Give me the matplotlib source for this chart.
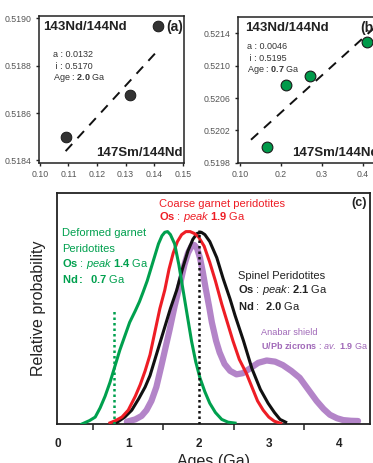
import matplotlib
matplotlib.use("Agg")
import matplotlib.pyplot as plt

plt.rcParams['font.family'] = ['Liberation Sans', 'DejaVu Sans']
plt.rcParams['mathtext.fontset'] = 'custom'
plt.rcParams['mathtext.rm'] = 'Liberation Sans'
plt.rcParams['mathtext.it'] = 'Liberation Sans:italic'
plt.rcParams['mathtext.bf'] = 'Liberation Sans:bold'

# --- isochron data (a) ---
a_sm = [0.1090, 0.1316, 0.1412]
a_nd = [0.51850, 0.518675, 0.518968]
a_slope, a_icpt = 0.0132, 0.5170
a_line_x = [0.109, 0.1418]

# --- isochron data (b) ---
b_sm = [0.1667, 0.2125, 0.2719, 0.4105]
b_nd = [0.52000, 0.52076, 0.52087, 0.52129]
b_slope, b_icpt = 0.0046, 0.5195
b_line_x = [0.127, 0.43]

# --- age distributions (c) ---
green_x = [0.34, 0.45, 0.53, 0.60, 0.67, 0.74, 0.81, 0.88, 0.95, 1.02, 1.10, 1.16, 1.21, 1.27,
           1.33, 1.38, 1.43, 1.48, 1.52, 1.56, 1.60, 1.66, 1.72, 1.78, 1.84, 1.90, 1.96, 2.02,
           2.09, 2.16, 2.24, 2.33, 2.42, 2.52]
green_y = [0.0, 0.015, 0.03, 0.07, 0.12, 0.18, 0.25, 0.32, 0.38, 0.44, 0.49, 0.53, 0.57, 0.62,
           0.68, 0.73, 0.78, 0.815, 0.83, 0.833, 0.82, 0.78, 0.69, 0.58, 0.47, 0.36, 0.27, 0.20,
           0.14, 0.09, 0.05, 0.02, 0.008, 0.004]

red_x = [0.74, 0.82, 0.91, 1.00, 1.10, 1.17, 1.24, 1.31, 1.38, 1.45, 1.52, 1.58, 1.64, 1.70,
         1.76, 1.82, 1.88, 1.94, 2.00, 2.08, 2.16, 2.24, 2.33, 2.41, 2.49, 2.58, 2.68, 2.76,
         2.84, 2.92, 3.00, 3.08, 3.17]
red_y = [0.005, 0.015, 0.03, 0.06, 0.12, 0.17, 0.23, 0.30, 0.40, 0.50, 0.58, 0.67, 0.74, 0.79,
         0.82, 0.833, 0.833, 0.825, 0.81, 0.77, 0.70, 0.62, 0.52, 0.44, 0.36, 0.28, 0.22, 0.16,
         0.10, 0.06, 0.03, 0.012, 0.003]

black_x = [0.83, 0.95, 1.05, 1.15, 1.24, 1.31, 1.38, 1.45, 1.52, 1.60, 1.69, 1.77, 1.85, 1.92,
           1.98, 2.04, 2.09, 2.16, 2.26, 2.35, 2.45, 2.52, 2.64, 2.76, 2.88, 2.99, 3.08, 3.16, 3.24]
black_y = [0.005, 0.03, 0.06, 0.11, 0.16, 0.21, 0.28, 0.35, 0.42, 0.50, 0.58, 0.67, 0.75, 0.80,
           0.825, 0.83, 0.82, 0.79, 0.72, 0.63, 0.54, 0.47, 0.36, 0.24, 0.15, 0.09, 0.05, 0.02, 0.008]

purple_x = [0.98, 1.10, 1.19, 1.26, 1.33, 1.40, 1.47, 1.53, 1.59, 1.66, 1.74, 1.80, 1.85, 1.90,
            1.94, 1.98, 2.02, 2.06, 2.10, 2.15, 2.19, 2.25, 2.30, 2.37, 2.45, 2.54, 2.63, 2.73,
            2.85, 2.97, 3.09, 3.20, 3.32, 3.44, 3.56, 3.68, 3.78, 3.87, 3.97, 4.06, 4.17, 4.27]
purple_y = [0.01, 0.02, 0.035, 0.06, 0.10, 0.16, 0.25, 0.33, 0.41, 0.51, 0.61, 0.69, 0.74, 0.77,
            0.775, 0.76, 0.72, 0.66, 0.59, 0.51, 0.44, 0.36, 0.31, 0.26, 0.23, 0.215, 0.22, 0.24,
            0.265, 0.275, 0.27, 0.255, 0.23, 0.20, 0.15, 0.10, 0.065, 0.04, 0.025, 0.017, 0.014, 0.013]

nd_age_deformed = 0.8
nd_age_spinel = 2.0

GREEN = '#00a04e'
RED = '#ee1d25'
PURPLE = '#b384c8'
PURPLE_TXT = '#a068b8'
TICKGRAY = '#555555'

fig = plt.figure(figsize=(3.73, 4.63), dpi=100)


def small_axes(ax):
    for s in ax.spines.values():
        s.set_linewidth(1.1)
        s.set_color('#222222')
    ax.tick_params(direction='out', length=2.5, width=1.0, labelsize=6.3,
                   labelcolor=TICKGRAY, color='#222222', pad=3)


# ---- panel (a) ----
ax_a = fig.add_axes([0.1054, 0.6486, 0.3887, 0.3168])
small_axes(ax_a)
ax_a.plot(a_line_x, [a_icpt + a_slope * x for x in a_line_x], color='#111111',
          lw=1.4, dashes=(5, 4))
ax_a.scatter(a_sm, a_nd, s=60, color='#333333', edgecolor='#111111', lw=0.6, zorder=3)
ax_a.set_xlim(0.0998, 0.1505)
ax_a.set_ylim(0.51839, 0.51901)
ax_a.set_xticks([0.10, 0.11, 0.12, 0.13, 0.14, 0.15])
ax_a.set_xticklabels(['0.10', '0.11', '0.12', '0.13', '0.14', '0.15'])
ax_a.set_yticks([0.5184, 0.5186, 0.5188, 0.5190])
ax_a.set_yticklabels(['0.5184', '0.5186', '0.5188', '0.5190'])
ax_a.text(0.026, 0.925, '143Nd/144Nd', transform=ax_a.transAxes, fontsize=9.5,
          fontweight='bold', color='#222222', va='center', ha='left')
ax_a.text(0.99, 0.925, '(a)', transform=ax_a.transAxes, fontsize=10,
          fontweight='bold', color='#222222', va='center', ha='right')
ax_a.text(0.99, 0.066, '147Sm/144Nd', transform=ax_a.transAxes, fontsize=9.5,
          fontweight='bold', color='#222222', va='center', ha='right')
ax_a.text(0.094, 0.741, 'a : 0.0132', transform=ax_a.transAxes, fontsize=6.5,
          color='#333333', va='center')
ax_a.text(0.094, 0.659, ' i : 0.5170', transform=ax_a.transAxes, fontsize=6.5,
          color='#333333', va='center')
ax_a.text(0.094, 0.584, r'Age : $\bf{2.0}$ Ga', transform=ax_a.transAxes, fontsize=6.5,
          color='#333333', va='center')

# ---- panel (b) ----
ax_b = fig.add_axes([0.6389, 0.6486, 0.3885, 0.3140])
small_axes(ax_b)
ax_b.plot(b_line_x, [b_icpt + b_slope * x for x in b_line_x], color='#111111',
          lw=1.4, dashes=(5, 4))
ax_b.scatter(b_sm, b_nd, s=60, color='#009a4a', edgecolor='#1a1a1a', lw=0.8, zorder=3)
ax_b.set_xlim(0.096, 0.45)
ax_b.set_ylim(0.5198, 0.52160)
ax_b.set_xticks([0.10, 0.2, 0.3, 0.4])
ax_b.set_xticklabels(['0.10', '0.2', '0.3', '0.4'])
ax_b.set_yticks([0.5198, 0.5202, 0.5206, 0.5210, 0.5214])
ax_b.set_yticklabels(['0.5198', '0.5202', '0.5206', '0.5210', '0.5214'])
ax_b.text(0.046, 0.928, '143Nd/144Nd', transform=ax_b.transAxes, fontsize=9.5,
          fontweight='bold', color='#222222', va='center', ha='left')
ax_b.text(0.84, 0.928, '(b)', transform=ax_b.transAxes, fontsize=10,
          fontweight='bold', color='#222222', va='center', ha='left')
ax_b.text(0.369, 0.069, '147Sm/144Nd', transform=ax_b.transAxes, fontsize=9.5,
          fontweight='bold', color='#222222', va='center', ha='left')
ax_b.text(0.058, 0.798, 'a : 0.0046', transform=ax_b.transAxes, fontsize=6.5,
          color='#333333', va='center')
ax_b.text(0.058, 0.718, ' i : 0.5195', transform=ax_b.transAxes, fontsize=6.5,
          color='#333333', va='center')
ax_b.text(0.058, 0.644, r'Age : $\bf{0.7}$ Ga', transform=ax_b.transAxes, fontsize=6.5,
          color='#333333', va='center')

# ---- panel (c) ----
ax_c = fig.add_axes([0.1528, 0.0842, 0.8391, 0.4989])
for s in ax_c.spines.values():
    s.set_linewidth(1.3)
    s.set_color('#222222')
ax_c.plot(purple_x, purple_y, color=PURPLE, lw=4.5, solid_capstyle='round',
          solid_joinstyle='round', zorder=2)
ax_c.plot(black_x, black_y, color='#111111', lw=2.2, solid_joinstyle='round', zorder=3)
ax_c.plot(red_x, red_y, color=RED, lw=2.2, solid_joinstyle='round', zorder=4)
ax_c.plot(green_x, green_y, color=GREEN, lw=2.2, solid_joinstyle='round', zorder=5)
ax_c.plot([nd_age_deformed, nd_age_deformed], [0, 0.49], color=GREEN, lw=1.8,
          linestyle=(0, (1, 1.2)), zorder=6)
ax_c.plot([nd_age_spinel, nd_age_spinel], [0, 0.84], color='#111111', lw=1.8,
          linestyle=(0, (1, 1.2)), zorder=6)
ax_c.set_xlim(-0.014, 4.44)
ax_c.set_ylim(0, 1)
ax_c.set_yticks([])
ax_c.set_xticks([0, 1, 2, 3, 4])
ax_c.set_xticklabels(['0', '1', '2', '3', '4'], fontweight='bold')
ax_c.set_xticks([0.5, 1.5, 2.5, 3.5], minor=True)
ax_c.tick_params(axis='x', which='major', length=0, labelsize=8.5, pad=10, labelcolor='#222222')
ax_c.tick_params(axis='x', which='minor', direction='out', length=4, width=1.1, color='#222222')
ax_c.set_ylabel('Relative probability', fontsize=11.5, color='#222222', labelpad=8)
ax_c.set_xlabel('Ages (Ga)', fontsize=11.5, color='#222222', labelpad=3)

ax_c.text(4.39, 0.955, '(c)', fontsize=9, fontweight='bold', color='#222222',
          ha='right', va='center')
ax_c.text(1.44, 0.952, 'Coarse garnet peridotites', fontsize=8, color=RED, va='center')
ax_c.text(1.44, 0.895, r'$\bf{Os}$ : $\it{peak}$ $\bf{1.9}$ Ga', fontsize=8, color=RED,
          va='center')
ax_c.text(0.053, 0.826, 'Deformed garnet', fontsize=8, color=GREEN, va='center')
ax_c.text(0.053, 0.758, 'Peridotites', fontsize=8, color=GREEN, va='center')
ax_c.text(0.053, 0.693, r'$\bf{Os}$ : $\it{peak}$ $\bf{1.4}$ Ga', fontsize=8, color=GREEN,
          va='center')
ax_c.text(0.053, 0.626, r'$\bf{Nd:}$  $\bf{0.7}$ Ga', fontsize=8, color=GREEN, va='center')
ax_c.text(2.565, 0.641, 'Spinel Peridotites', fontsize=8, color='#222222', va='center')
ax_c.text(2.565, 0.580, r'$\bf{Os}$ : $\it{peak}$: $\bf{2.1}$ Ga', fontsize=8,
          color='#222222', va='center')
ax_c.text(2.565, 0.511, r'$\bf{Nd}$ :  $\bf{2.0}$ Ga', fontsize=8, color='#222222',
          va='center')
ax_c.text(2.89, 0.395, 'Anabar shield', fontsize=6.6, color=PURPLE_TXT, va='center')
ax_c.text(2.89, 0.341, r'$\bf{U/Pb}$ $\bf{zicrons}$ : $\it{av.}$ $\bf{1.9}$ Ga', fontsize=6.5,
          color=PURPLE_TXT, va='center')

fig.savefig('out.png', dpi=100)
